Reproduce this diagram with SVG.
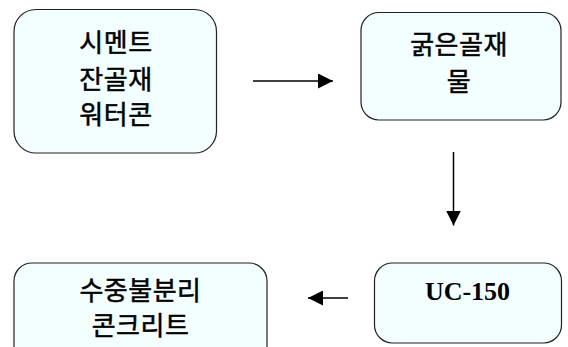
<svg xmlns="http://www.w3.org/2000/svg" width="568" height="347" viewBox="0 0 568 347">
<style>
.box{fill:#F3FEFE;stroke:#222;stroke-width:1.2}
.ko{font-family:"Noto Sans CJK KR","Noto Sans",sans-serif;font-size:26px;letter-spacing:0.5px;fill:#000;stroke:#000;stroke-width:0.5;text-anchor:middle}
.en{font-family:"Liberation Serif",serif;font-weight:bold;font-size:26px;fill:#000;text-anchor:middle}
.conn{stroke:#000;stroke-width:1.5;fill:none;marker-end:url(#ah)}
</style>
<defs>
<marker id="ah" markerUnits="userSpaceOnUse" markerWidth="15" markerHeight="15" refX="15" refY="7.5" orient="auto">
<path d="M0,0 L15,7.5 L0,15 z" fill="#000"/>
</marker>
</defs>
<rect width="568" height="347" fill="#fff"/>
<g id="n1">
<rect class="box" x="14" y="9.5" width="202.5" height="143.5" rx="22"/>
<text class="ko" x="116" y="52">시멘트</text>
<text class="ko" x="116" y="89">잔골재</text>
<text class="ko" x="116" y="123.5">워터콘</text>
</g>
<g id="n2">
<rect class="box" x="361" y="12.5" width="200" height="107.5" rx="18"/>
<text class="ko" x="459" y="53.5">굵은골재</text>
<text class="ko" x="459" y="90.5">물</text>
</g>
<g id="n3">
<rect class="box" x="374.5" y="263" width="187" height="80" rx="18"/>
<text class="en" x="467.5" y="300">UC-150</text>
</g>
<g id="n4">
<rect class="box" x="14" y="263" width="253" height="110" rx="18"/>
<text class="ko" x="140.5" y="299.5">수중불분리</text>
<text class="ko" x="140.5" y="334.5">콘크리트</text>
</g>
<g id="connectors">
<line class="conn" x1="253" y1="81" x2="333" y2="81"/>
<line class="conn" x1="453.5" y1="152" x2="453.5" y2="225.5"/>
<line class="conn" x1="348" y1="298" x2="308" y2="298"/>
</g>
</svg>
